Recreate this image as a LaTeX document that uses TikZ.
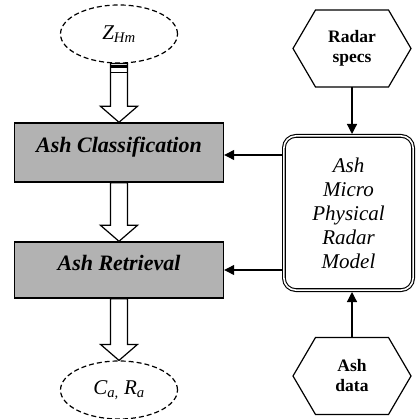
\documentclass[tikz,border=0pt]{standalone}
\usepackage{fontspec}
\setmainfont{Liberation Serif}
\usetikzlibrary{arrows.meta,calc,shapes.geometric}
\newcommand\hollowarr[2]{%
  \draw[hollow] ($(#1)+(-8.5,0)$) -- ($(#2)+(-8.5,-16)$) -- ($(#2)+(-18.5,-16)$) -- (#2)
    -- ($(#2)+(18.5,-16)$) -- ($(#2)+(8.5,-16)$) -- ($(#1)+(8.5,0)$) -- cycle;}
\newcommand\hexborder[1]{%
  \draw[hexline] ($(#1.north west)+(22.5,0)$) -- ($(#1.north east)+(-22.5,0)$) -- (#1.east)
    -- ($(#1.south east)+(-22.5,0)$) -- ($(#1.south west)+(22.5,0)$) -- (#1.west) -- cycle;}
\begin{document}
\begin{tikzpicture}[x=1pt,y=-1pt,
  dashell/.style={ellipse, draw, dash pattern=on 5pt off 3pt, line width=1.2pt,
    minimum width=117pt, minimum height=58pt, inner sep=0pt,
    font=\fontsize{21}{24}\selectfont\itshape},
  graybox/.style={draw, line width=1.4pt, fill=black!30, minimum width=209pt, inner sep=0pt,
    text height=12pt, text depth=12pt, font=\fontsize{22}{26}\selectfont\bfseries\itshape},
  hexnode/.style={minimum width=118pt, minimum height=77pt, inner sep=0pt, outer sep=0pt,
    align=center, font=\fontsize{17.5}{20}\selectfont\bfseries},
  hexline/.style={line width=1.2pt},
  modelbox/.style={draw, double, double distance=1.6pt, line width=1.1pt, rounded corners=12pt,
    minimum width=129.2pt, minimum height=154.2pt, outer sep=1.9pt, inner sep=0pt, align=center,
    font=\fontsize{21}{24}\selectfont\itshape},
  hollow/.style={draw, line width=1.2pt, fill=white},
  feed/.style={draw, line width=1.2pt, -{Triangle[length=10pt,width=10pt]}}
]
\useasboundingbox (0,0) rectangle (416,419);

\node[dashell] (zh) at (119,34) {Z\textsubscript{Hm}};
\node[graybox, minimum height=59pt] (cls) at (119,152.5) {Ash Classification};
\node[graybox, minimum height=56pt] (ret) at (119,270) {Ash Retrieval};
\node[dashell] (cr) at (119,390) {C\textsubscript{a,} R\textsubscript{a}};

\node[modelbox] (model) at (348.5,213) {Ash\\Micro\\Physical\\Radar\\Model};
\node[hexnode] (rs) at (352,48.5) {Radar\\specs};
\hexborder{rs}
\node[hexnode] (ad) at (352,376) {Ash\\data};
\hexborder{ad}

\hollowarr{zh.south}{cls.north}
\draw[line width=3pt] ($(zh.south)+(-8.5,2.5)$) -- ($(zh.south)+(8.5,2.5)$);
\draw[line width=1.2pt] ($(zh.south)+(-8.5,9)$) -- ($(zh.south)+(8.5,9)$);
\hollowarr{cls.south}{ret.north}
\hollowarr{ret.south}{cr.north}

\draw[feed] (rs.south) -- (rs.south |- model.north);
\draw[feed] (ad.north) -- (ad.north |- model.south);
\draw[feed] ([yshift=-2.5pt]model.west |- cls.east) -- ([yshift=-2.5pt]cls.east);
\draw[feed] (model.west |- ret.east) -- (ret.east);
\end{tikzpicture}
\end{document}
